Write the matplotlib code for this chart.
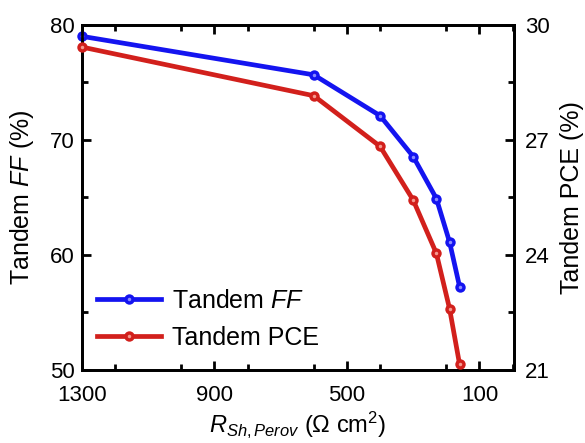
import matplotlib
matplotlib.use('Agg')
import matplotlib.pyplot as plt
from matplotlib.ticker import MultipleLocator

plt.rcParams['font.family'] = ['Liberation Sans', 'DejaVu Sans']
plt.rcParams['mathtext.fontset'] = 'custom'
plt.rcParams['mathtext.rm'] = 'Liberation Sans'
plt.rcParams['mathtext.it'] = 'Liberation Sans:italic'

# shunt resistance of perovskite subcell (Ohm cm2)
r_sh = [1300, 600, 400, 300, 230, 190, 160]
tandem_ff = [79.0, 75.65, 72.1, 68.55, 64.9, 61.1, 57.25]
tandem_pce = [29.42, 28.15, 26.83, 25.43, 24.04, 22.59, 21.15]

x_ticks = [1300, 900, 500, 100]

blue = '#1414f0'
red = '#d2201c'

fig = plt.figure(figsize=(5.85, 4.43), dpi=100)
ax = fig.add_axes([0.140, 0.165, 0.739, 0.779])
ax2 = ax.twinx()

lw = 3.4
ms = 7.5
l1, = ax.plot(r_sh, tandem_ff, color=blue, lw=lw, marker='o', markersize=ms,
              markeredgewidth=0, clip_on=False, zorder=5)
h1, = ax.plot(r_sh, tandem_ff, ls='none', marker='o', markersize=2.5,
              color='#8c8cff', markeredgewidth=0, clip_on=False, zorder=6)
l2, = ax2.plot(r_sh, tandem_pce, color=red, lw=lw, marker='o', markersize=ms,
               markeredgewidth=0, clip_on=False, zorder=5)
h2, = ax2.plot(r_sh, tandem_pce, ls='none', marker='o', markersize=2.5,
               color='#f59a90', markeredgewidth=0, clip_on=False, zorder=6)

ax.set_xlim(1300, -5)
ax.set_ylim(50, 80)
ax2.set_ylim(21, 30)
ax.set_xticks(x_ticks)
ax.xaxis.set_minor_locator(MultipleLocator(200))
ax.yaxis.set_major_locator(MultipleLocator(10))
ax.yaxis.set_minor_locator(MultipleLocator(5))
ax2.yaxis.set_major_locator(MultipleLocator(3))
ax2.yaxis.set_minor_locator(MultipleLocator(1.5))

for a in (ax, ax2):
    for s in a.spines.values():
        s.set_linewidth(2.0)
ax.tick_params(which='both', direction='in', top=True, right=False, labelsize=16, width=2.0)
ax.tick_params(which='major', length=6.5)
ax.tick_params(which='minor', length=4)
ax.tick_params(axis='x', pad=11)
ax.tick_params(axis='y', pad=5)
ax2.tick_params(which='both', direction='in', labelsize=16, width=2.0, pad=8)
ax2.tick_params(which='major', length=6.5)
ax2.tick_params(which='minor', length=4)

ax.set_ylabel('Tandem $FF$ (%)', fontsize=18, labelpad=10)
ax2.set_ylabel('Tandem PCE (%)', fontsize=18, labelpad=7)
ax.set_xlabel(r'$R_{Sh,Perov}$ ($\Omega$ cm$^2$)', fontsize=17, labelpad=2)

ax.legend(handles=[(l1, h1), (l2, h2)], labels=['Tandem $FF$', 'Tandem PCE'],
          loc='lower left', frameon=False, fontsize=18,
          handlelength=2.55, handletextpad=0.45, borderaxespad=0,
          bbox_to_anchor=(0.012, 0.03), labelspacing=0.5)

fig.savefig('out.png', dpi=100)
